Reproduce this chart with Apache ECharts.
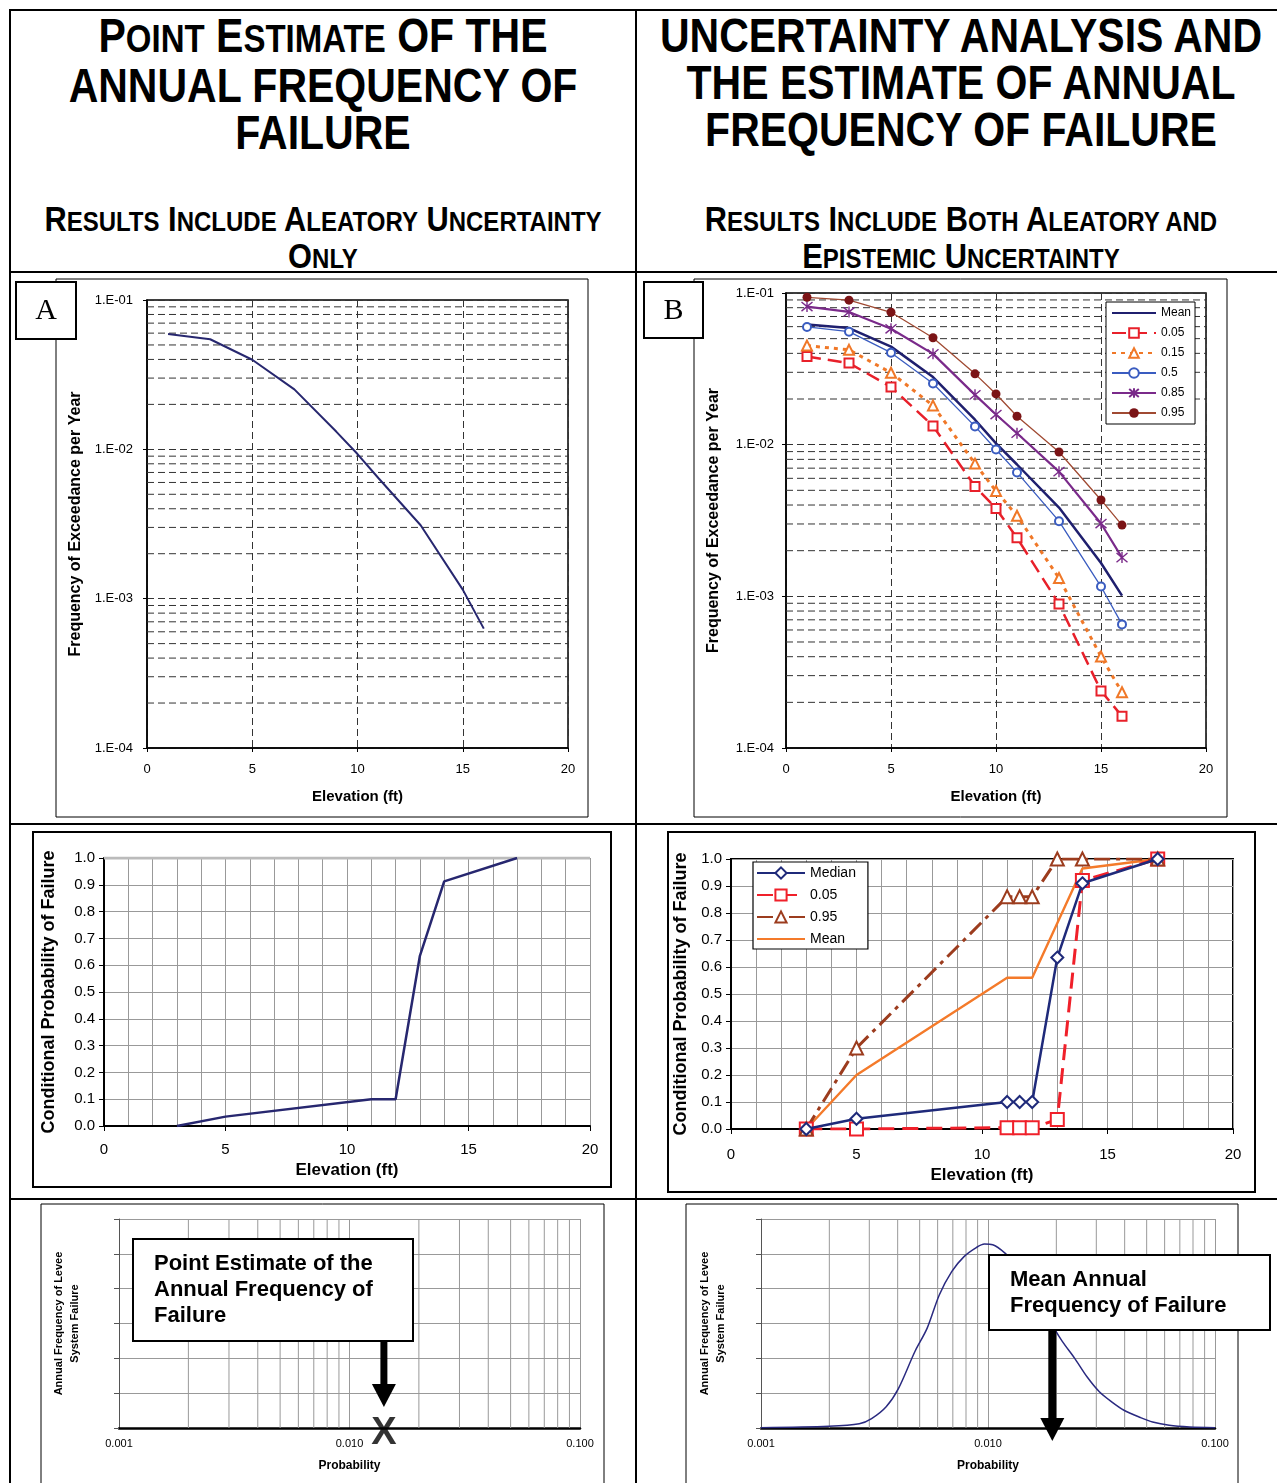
<!DOCTYPE html>
<html>
<head>
<meta charset="utf-8">
<script src="https://cdn.jsdelivr.net/npm/echarts@6/dist/echarts.min.js"></script>
<style>
html,body{margin:0;padding:0;background:#fff;overflow:hidden;}
#page{position:relative;width:1277px;height:1483px;overflow:hidden;font-family:"Liberation Sans",Arial,sans-serif;color:#000;}
.ln{position:absolute;background:#000;}
.title{position:absolute;text-align:center;font-weight:bold;transform:scaleY(1.15);transform-origin:top center;white-space:nowrap;}
.t1{font-size:41px;line-height:41px;}
.s1{font-size:33px;}
.t2{font-size:30.8px;line-height:30.4px;}
.sc{font-size:24px;}
.cell{position:absolute;}
</style>
</head>
<body>
<div id="page">
  <div class="ln" style="left:9px;top:9px;width:1277px;height:2px"></div>
  <div class="ln" style="left:9px;top:9px;width:2px;height:1483px"></div>
  <div class="ln" style="left:635px;top:9px;width:2px;height:1483px"></div>
  <div class="ln" style="left:9px;top:271px;width:1277px;height:2px"></div>
  <div class="ln" style="left:9px;top:823px;width:1277px;height:2px"></div>
  <div class="ln" style="left:9px;top:1198px;width:1277px;height:2px"></div>

  <div class="title t1" style="left:10px;width:626px;top:13px">P<span class="s1">OINT</span> E<span class="s1">STIMATE</span> OF THE<br>ANNUAL FREQUENCY OF<br>FAILURE</div>
  <div class="title t1" style="left:636px;width:650px;top:13px">UNCERTAINTY ANALYSIS AND<br>THE ESTIMATE OF ANNUAL<br>FREQUENCY OF FAILURE</div>
  <div class="title t2" style="left:10px;width:626px;top:202px">R<span class="sc">ESULTS</span> I<span class="sc">NCLUDE</span> A<span class="sc">LEATORY</span> U<span class="sc">NCERTAINTY</span><br>O<span class="sc">NLY</span></div>
  <div class="title t2" style="left:636px;width:650px;top:202px">R<span class="sc">ESULTS</span> I<span class="sc">NCLUDE</span> B<span class="sc">OTH</span> A<span class="sc">LEATORY AND</span><br>E<span class="sc">PISTEMIC</span> U<span class="sc">NCERTAINTY</span></div>

  <div id="cA" class="cell" style="left:11px;top:273px;width:624px;height:550px"></div>
  <div id="cB" class="cell" style="left:637px;top:273px;width:640px;height:550px"></div>
  <div id="cC" class="cell" style="left:11px;top:825px;width:624px;height:373px"></div>
  <div id="cD" class="cell" style="left:637px;top:825px;width:640px;height:373px"></div>
  <div id="cE" class="cell" style="left:11px;top:1200px;width:624px;height:283px"></div>
  <div id="cF" class="cell" style="left:637px;top:1200px;width:640px;height:283px"></div>
</div>
<script>
// 频率曲线 (A)
var elevA = [1, 3, 5, 7, 9, 10, 11, 13, 15, 16];
var freqA = [0.0593, 0.0546, 0.0398, 0.0252, 0.0131, 0.0093, 0.0064, 0.0031, 0.00115, 0.00063];

// 不确定性分位数 (B)
var elevB = [1, 3, 5, 7, 9, 10, 11, 13, 15, 16];
var freqMean = [0.062, 0.0587, 0.0443, 0.0279, 0.0146, 0.0102, 0.0074, 0.00385, 0.00166, 0.00101];
var freq05 = [0.0381, 0.0345, 0.024, 0.0133, 0.0053, 0.0038, 0.00243, 0.00089, 0.000238, 0.000162];
var freq15 = [0.045, 0.0422, 0.0298, 0.0181, 0.0075, 0.00495, 0.0034, 0.00132, 0.000401, 0.000233];
var freq50 = [0.0597, 0.0556, 0.0404, 0.0253, 0.0132, 0.0093, 0.00656, 0.00313, 0.00116, 0.000653];
var freq85 = [0.0814, 0.075, 0.0581, 0.0397, 0.0213, 0.0158, 0.0119, 0.00664, 0.00302, 0.0018];
var freq95 = [0.0937, 0.0897, 0.0746, 0.0507, 0.0293, 0.0216, 0.0154, 0.00894, 0.00432, 0.00295];

// 条件失效概率 (C)
var elevC = [3, 5, 11, 12, 13, 14, 17];
var probC = [0, 0.035, 0.1, 0.1, 0.635, 0.913, 1.0];

// (D)
var elevD = [3, 5, 11, 11.5, 12, 13, 14, 17];
var probMedian = [0, 0.038, 0.1, 0.1, 0.1, 0.635, 0.91, 1.0];
var prob05 = [0, 0, 0.005, 0.005, 0.005, 0.035, 0.92, 1.0];
var prob95 = [0, 0.30, 0.86, 0.86, 0.86, 1.0, 1.0, 1.0];
var elevMeanD = [3, 5, 11, 12, 14, 17];
var probMeanD = [0, 0.2, 0.56, 0.56, 0.965, 1.0];

// 年失效频率分布 (E, F)
var pointEstimate = 0.0141;
var meanAnnual = 0.0192;
var probF = [0.001, 0.00199, 0.00271, 0.00307, 0.00356, 0.00403, 0.00476, 0.00539, 0.0061, 0.00692, 0.00784, 0.00888, 0.00965, 0.01049, 0.01188, 0.01346, 0.01526, 0.01728, 0.01958, 0.02128, 0.0241, 0.0273, 0.03094, 0.03505, 0.0397, 0.0469, 0.0531, 0.0628, 0.0773, 0.1];
var densF = [0.01, 0.05, 0.12, 0.27, 0.61, 1.13, 2.19, 2.86, 3.82, 4.49, 4.92, 5.18, 5.28, 5.26, 5.02, 4.64, 4.16, 3.52, 2.86, 2.48, 2.0, 1.47, 1.04, 0.75, 0.51, 0.30, 0.17, 0.077, 0.029, 0.01];

var FONT = '"Liberation Sans", Arial, sans-serif';
var ASTERISK = 'path://M0,0L10,10M10,0L0,10M5,-1L5,11';

function pairs(xs, ys) {
  return xs.map(function (x, i) { return [x, ys[i]]; });
}
// 对数轴的次网格线 2..9
function logMinors(lo, hi) {
  var out = [];
  for (var e = lo; e < hi; e++) {
    for (var m = 2; m <= 9; m++) out.push(m * Math.pow(10, e));
  }
  return out;
}
// 次网格线用普通折线画 (水平 / 垂直)
function hGrid(vals, x0, x1, style) {
  return vals.map(function (v) {
    return { type: 'line', data: [[x0, v], [x1, v]], symbol: 'none', silent: true, z: 1, lineStyle: style, tooltip: { show: false } };
  });
}
function vGrid(vals, y0, y1, style) {
  return vals.map(function (v) {
    return { type: 'line', data: [[v, y0], [v, y1]], symbol: 'none', silent: true, z: 1, lineStyle: style, tooltip: { show: false } };
  });
}
function expLabel(v) {
  var e = Math.round(Math.log(v) / Math.LN10);
  return '1.E' + (e < 0 ? '-' : '+') + (Math.abs(e) < 10 ? '0' : '') + Math.abs(e);
}
function boxRect(x, y, w, h, lw) {
  return { type: 'rect', z: 100, silent: true, shape: { x: x, y: y, width: w, height: h },
    style: { fill: 'none', stroke: '#000', lineWidth: lw } };
}
function tagBox(x, y, w, h, letter) {
  return [
    { type: 'rect', z: 110, shape: { x: x, y: y, width: w, height: h }, style: { fill: '#fff', stroke: '#000', lineWidth: 2 } },
    { type: 'text', z: 111, x: x + w / 2, y: y + h / 2 + 1,
      style: { text: letter, font: '30px "Liberation Serif", serif', fill: '#000', align: 'center', verticalAlign: 'middle' } }
  ];
}

var DASHED = { type: [7, 4], color: '#333', width: 1 };

// 图 A / B 共用坐标轴
function elevAxis(gap) {
  return {
    type: 'value', min: 0, max: 20, interval: 5,
    axisLine: { lineStyle: { color: '#000', width: 1.5 } },
    axisTick: { show: true, length: 4, lineStyle: { color: '#000' } },
    axisLabel: { fontSize: 13, color: '#000', margin: 15, fontFamily: FONT },
    splitLine: { show: true, lineStyle: DASHED },
    name: 'Elevation (ft)', nameLocation: 'middle', nameGap: 41,
    nameTextStyle: { fontWeight: 'bold', fontSize: 15, color: '#000', fontFamily: FONT }
  };
}
function freqAxis(gap, margin) {
  return {
    type: 'log', logBase: 10, min: 0.0001, max: 0.1,
    axisLine: { lineStyle: { color: '#000', width: 1.5 } },
    axisTick: { show: true, length: 4, lineStyle: { color: '#000' } },
    axisLabel: { fontSize: 13, color: '#000', margin: margin, formatter: expLabel, fontFamily: FONT },
    splitLine: { show: true, lineStyle: DASHED },
    name: 'Frequency of Exceedance per Year', nameLocation: 'middle', nameGap: gap,
    nameTextStyle: { fontWeight: 'bold', fontSize: 16, color: '#000', fontFamily: FONT }
  };
}

// ---------- A ----------
var chartA = echarts.init(document.getElementById('cA'));
chartA.setOption({
  animation: false,
  grid: { left: 136, top: 27, width: 421, height: 448, show: true, borderColor: '#000', borderWidth: 1.5 },
  xAxis: elevAxis(41),
  yAxis: freqAxis(62, 14),
  series: hGrid(logMinors(-4, -1), 0, 20, DASHED).concat([{
    type: 'line', data: pairs(elevA, freqA), symbol: 'none', z: 5,
    lineStyle: { color: '#27276F', width: 2 }
  }]),
  graphic: [boxRect(45, 6, 532, 538, 1)].concat(tagBox(5, 9, 60, 57, 'A'))
});

// ---------- B ----------
var chartB = echarts.init(document.getElementById('cB'));
chartB.setOption({
  animation: false,
  grid: { left: 149, top: 20, width: 420, height: 455, show: true, borderColor: '#000', borderWidth: 1.5 },
  xAxis: elevAxis(41),
  yAxis: freqAxis(64, 12),
  legend: {
    left: 469, top: 29, orient: 'vertical', itemWidth: 44, itemHeight: 12, itemGap: 8,
    padding: [5, 4, 5, 5], borderColor: '#000', borderWidth: 1, backgroundColor: '#fff',
    textStyle: { fontSize: 12, color: '#000', fontFamily: FONT },
    data: [{ name: 'Mean', itemStyle: { opacity: 0 } }, '0.05', '0.15', '0.5', '0.85', '0.95']
  },
  series: hGrid(logMinors(-4, -1), 0, 20, DASHED).concat([
    { name: 'Mean', type: 'line', data: pairs(elevB, freqMean), symbol: 'none', z: 5,
      itemStyle: { color: '#1F1F6E' }, lineStyle: { color: '#1F1F6E', width: 2.5 } },
    { name: '0.05', type: 'line', data: pairs(elevB, freq05), symbol: 'emptyRect', symbolSize: 9, z: 5,
      itemStyle: { color: '#E8202A', borderWidth: 1.3 }, lineStyle: { color: '#E8202A', width: 2.5, type: [14, 7] } },
    { name: '0.15', type: 'line', data: pairs(elevB, freq15), symbol: 'emptyTriangle', symbolSize: 10, z: 5,
      itemStyle: { color: '#F07828', borderWidth: 1.2 }, lineStyle: { color: '#F07828', width: 3, type: [4, 5] } },
    { name: '0.5', type: 'line', data: pairs(elevB, freq50), symbol: 'emptyCircle', symbolSize: 8, z: 5,
      itemStyle: { color: '#3A5CC0', borderWidth: 1.2 }, lineStyle: { color: '#3A5CC0', width: 1.3 } },
    { name: '0.85', type: 'line', data: pairs(elevB, freq85), symbol: ASTERISK, symbolSize: 11, z: 5,
      itemStyle: { color: '#7A2A8A', borderColor: '#7A2A8A', borderWidth: 1.4 }, lineStyle: { color: '#7A2A8A', width: 2.2 } },
    { name: '0.95', type: 'line', data: pairs(elevB, freq95), symbol: 'circle', symbolSize: 9, z: 5,
      itemStyle: { color: '#7B1416' }, lineStyle: { color: '#A04A32', width: 1.3 } }
  ]),
  graphic: [boxRect(57, 6, 533, 538, 1)].concat(tagBox(7, 9, 59, 56, 'B'))
});

// 图 C / D 共用坐标轴
function elevAxis2(gap, margin) {
  return {
    type: 'value', min: 0, max: 20, interval: 5,
    axisLine: { lineStyle: { color: '#000', width: 2 } },
    axisTick: { show: true, length: 5, lineStyle: { color: '#000' } },
    axisLabel: { fontSize: 15, color: '#000', margin: margin, fontFamily: FONT },
    splitLine: { show: true, lineStyle: { color: '#999', width: 1 } },
    minorTick: { show: false, splitNumber: 5 },
    minorSplitLine: { show: true, lineStyle: { color: '#999', width: 1 } },
    name: 'Elevation (ft)', nameLocation: 'middle', nameGap: gap,
    nameTextStyle: { fontWeight: 'bold', fontSize: 17, color: '#000', fontFamily: FONT }
  };
}
function probAxis(gap, width) {
  return {
    type: 'value', min: 0, max: 1, interval: 0.1,
    axisLine: { show: true, lineStyle: { color: '#000', width: 2 } },
    axisTick: { show: true, length: 5, lineStyle: { color: '#000' } },
    axisLabel: { fontSize: 15, color: '#000', margin: 9, fontFamily: FONT,
      formatter: function (v) { return v.toFixed(1); } },
    splitLine: { show: true, lineStyle: { color: '#999', width: 1 } },
    name: 'Conditional Probability of Failure', nameLocation: 'middle', nameGap: gap,
    nameTextStyle: { fontWeight: 'bold', fontSize: 18, color: '#000', fontFamily: FONT,
      width: width, overflow: 'truncate', ellipsis: '' }
  };
}

// ---------- C ----------
var chartC = echarts.init(document.getElementById('cC'));
chartC.setOption({
  animation: false,
  grid: { left: 93, top: 33, width: 486, height: 268 },
  xAxis: elevAxis2(35, 16),
  yAxis: probAxis(46, 272),
  series: hGrid([1], 0, 20, { color: '#bbb', width: 3 }).concat([{
    type: 'line', data: pairs(elevC, probC), symbol: 'none', z: 5,
    lineStyle: { color: '#27276F', width: 2.5 }
  }]),
  graphic: [boxRect(22, 7, 578, 355, 2)]
});

// ---------- D ----------
var chartD = echarts.init(document.getElementById('cD'));
chartD.setOption({
  animation: false,
  grid: { left: 94, top: 34, width: 502, height: 270, show: true, borderColor: '#000', borderWidth: 2 },
  xAxis: elevAxis2(37, 18),
  yAxis: probAxis(37, 278),
  legend: {
    left: 116, top: 37, orient: 'vertical', itemWidth: 48, itemHeight: 14, itemGap: 8,
    padding: [4, 12, 3, 3], borderColor: '#000', borderWidth: 1.2, backgroundColor: '#fff',
    textStyle: { fontSize: 14, color: '#000', fontFamily: FONT },
    data: ['Median', '0.05', '0.95', { name: 'Mean', itemStyle: { opacity: 0 } }]
  },
  series: [
    { name: 'Median', type: 'line', data: pairs(elevD, probMedian), symbol: 'emptyDiamond', symbolSize: 12,
      itemStyle: { color: '#1F2A7A', borderWidth: 1.2 }, lineStyle: { color: '#1F2A7A', width: 2.5 }, z: 4 },
    { name: '0.05', type: 'line', data: pairs(elevD, prob05), symbol: 'emptyRect', symbolSize: 13,
      itemStyle: { color: '#F0202A', borderWidth: 1.2 }, lineStyle: { color: '#F0202A', width: 3, type: [16, 8] }, z: 3 },
    { name: '0.95', type: 'line', data: pairs(elevD, prob95), symbol: 'emptyTriangle', symbolSize: 13,
      itemStyle: { color: '#9C3C1E', borderWidth: 1.2 }, lineStyle: { color: '#9C3C1E', width: 3, type: [16, 6, 4, 6] }, z: 3 },
    { name: 'Mean', type: 'line', data: pairs(elevMeanD, probMeanD), symbol: 'none',
      itemStyle: { color: '#F47A2A' }, lineStyle: { color: '#F47A2A', width: 2.4 }, z: 2 }
  ],
  graphic: [boxRect(31, 7, 587, 360, 2)]
});

// 图 E / F 共用坐标轴
var GRAY = { type: 'solid', color: '#999', width: 1 };
function probLogAxis() {
  return {
    type: 'log', logBase: 10, min: 0.001, max: 0.1,
    axisLine: { lineStyle: { color: '#000', width: 2.5 } },
    axisTick: { show: false },
    axisLabel: { fontSize: 11, color: '#000', margin: 10, fontFamily: FONT,
      formatter: function (v) { return v.toFixed(3); } },
    splitLine: { show: true, lineStyle: GRAY },
    name: 'Probability', nameLocation: 'middle', nameGap: 32,
    nameTextStyle: { fontWeight: 'bold', fontSize: 12, color: '#000', fontFamily: FONT }
  };
}
function levelAxis(gap) {
  return {
    type: 'value', min: 0, max: 6, interval: 1,
    axisLine: { show: true, lineStyle: { color: '#555', width: 1 } },
    axisTick: { show: true, length: 5, lineStyle: { color: '#555' } },
    axisLabel: { show: false },
    splitLine: { show: true, lineStyle: GRAY },
    name: 'Annual Frequency of Levee\nSystem Failure', nameLocation: 'middle', nameGap: gap,
    nameTextStyle: { fontWeight: 'bold', fontSize: 11, lineHeight: 16, color: '#000', fontFamily: FONT }
  };
}
function arrow(x, y0, y1, shaftW, headW, headH) {
  return [
    { type: 'rect', z: 120, shape: { x: x - shaftW / 2, y: y0, width: shaftW, height: y1 - y0 - headH + 2 }, style: { fill: '#000' } },
    { type: 'polygon', z: 120, shape: { points: [[x - headW / 2, y1 - headH], [x + headW / 2, y1 - headH], [x, y1]] }, style: { fill: '#000' } }
  ];
}
function noteBox(x, y, w, h, text, tx, ty) {
  return [
    { type: 'rect', z: 110, shape: { x: x, y: y, width: w, height: h }, style: { fill: '#fff', stroke: '#000', lineWidth: 2 } },
    { type: 'text', z: 111, x: tx, y: ty,
      style: { text: text, font: 'bold 22px "Liberation Sans", Arial, sans-serif', lineHeight: 26, fill: '#000', verticalAlign: 'top' } }
  ];
}

// ---------- E ----------
var chartE = echarts.init(document.getElementById('cE'));
chartE.setOption({
  animation: false,
  grid: { left: 108, top: 19, width: 461, height: 209 },
  xAxis: probLogAxis(),
  yAxis: levelAxis(36),
  series: vGrid(logMinors(-3, -1), 0, 6, GRAY).concat([{
    type: 'scatter', data: [[pointEstimate, 0]], symbolSize: 1, clip: false, z: 5,
    itemStyle: { color: 'rgba(0,0,0,0)' },
    label: { show: true, formatter: 'X', position: 'inside', offset: [0, 6],
      fontSize: 38, fontWeight: 'bold', color: '#000', fontFamily: FONT }
  }])
});
var xE = chartE.convertToPixel({ xAxisIndex: 0 }, pointEstimate);
chartE.setOption({
  graphic: [boxRect(30, 4, 563, 300, 1)]
    .concat(noteBox(122, 39, 280, 102, 'Point Estimate of the\nAnnual Frequency of\nFailure', 143, 51))
    .concat(arrow(xE, 141, 207, 7, 24, 23))
});

// ---------- F ----------
var chartF = echarts.init(document.getElementById('cF'));
chartF.setOption({
  animation: false,
  grid: { left: 124, top: 19, width: 454, height: 209 },
  xAxis: probLogAxis(),
  yAxis: levelAxis(32),
  series: vGrid(logMinors(-3, -1), 0, 6, GRAY).concat([{
    type: 'line', data: pairs(probF, densF), symbol: 'none', smooth: 0.3, z: 5,
    lineStyle: { color: '#2A2A80', width: 1.5 }
  }])
});
var xF = chartF.convertToPixel({ xAxisIndex: 0 }, meanAnnual);
chartF.setOption({
  graphic: [boxRect(49, 4, 552, 300, 1)]
    .concat(noteBox(352, 55, 281, 75, 'Mean Annual\nFrequency of Failure', 373, 67))
    .concat(arrow(xF, 130, 241, 8, 24, 23))
});
</script>
</body>
</html>
